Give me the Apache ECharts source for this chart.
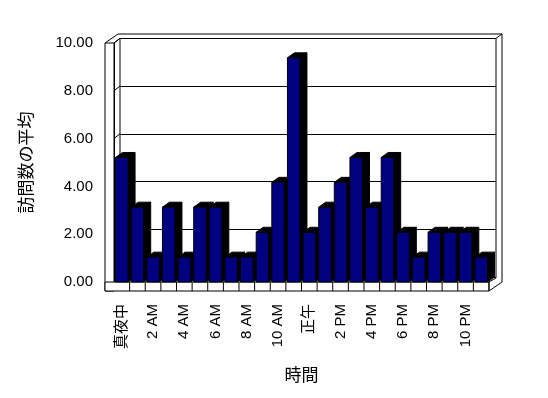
<!DOCTYPE html>
<html>
<head>
<meta charset="utf-8">
<script src="https://cdn.jsdelivr.net/npm/echarts@6/dist/echarts.min.js"></script>
<style>
  html, body { margin: 0; padding: 0; background: #fff; }
  #chart { width: 548px; height: 398px; }
</style>
</head>
<body>
<div id="chart"></div>
<script>
// hours of the day
var hours = [
  "真夜中", "1 AM", "2 AM", "3 AM", "4 AM", "5 AM", "6 AM", "7 AM",
  "8 AM", "9 AM", "10 AM", "11 AM", "正午", "1 PM", "2 PM", "3 PM",
  "4 PM", "5 PM", "6 PM", "7 PM", "8 PM", "9 PM", "10 PM", "11 PM"
];
// average visits per hour
var avgVisits = [
  5.21, 3.13, 1.04, 3.13, 1.04, 3.13, 3.13, 1.04,
  1.04, 2.08, 4.17, 9.38, 2.08, 3.13, 4.17, 5.21,
  3.13, 5.21, 2.08, 1.04, 2.08, 2.08, 2.08, 1.04
];
var yTicks = [0, 2, 4, 6, 8, 10];

var FONT = "'Liberation Sans', 'Noto Sans CJK JP', sans-serif";
var DX = 7, DY = -5;   // depth of the bars
var chart = echarts.init(document.getElementById("chart"));

function renderBar(params, api) {
  var i = api.value(0);
  var top = api.coord([i, api.value(1)]);
  var base = api.coord([i, 0]);
  var w = api.size([1, 0])[0] * 0.8;
  var x = top[0] - w / 2;
  var y = top[1];
  var b = base[1];
  return {
    type: "group",
    children: [
      {
        type: "polygon",
        shape: { points: [[x + w, b], [x + w, y], [x + w + DX, y + DY], [x + w + DX, b + DY]] },
        style: { fill: "#000", stroke: "#000", lineWidth: 1 }
      },
      {
        type: "polygon",
        shape: { points: [[x, y], [x + DX, y + DY], [x + w + DX, y + DY], [x + w, y]] },
        style: { fill: "#000", stroke: "#000", lineWidth: 1 }
      },
      {
        type: "rect",
        shape: { x: x, y: y, width: w, height: b - y },
        style: { fill: "#000080", stroke: "#000", lineWidth: 1 }
      }
    ]
  };
}

var option = {
  backgroundColor: "#fff",
  animation: false,
  textStyle: { fontFamily: FONT },
  grid: [
    { left: 114, right: 59, top: 43, bottom: 116 },
    { left: 120, right: 52, top: 38.3, bottom: 121 }
  ],
  xAxis: [
    {
      type: "category",
      gridIndex: 0,
      data: hours,
      name: "時間",
      nameLocation: "middle",
      nameGap: 86,
      nameTextStyle: { fontSize: 17, color: "#000", fontFamily: FONT },
      axisLine: { show: false },
      axisTick: { show: false },
      axisLabel: {
        interval: 1,
        rotate: 90,
        margin: 22,
        fontSize: 15,
        color: "#000",
        fontFamily: FONT
      }
    },
    { type: "category", gridIndex: 1, data: hours, show: false }
  ],
  yAxis: [
    {
      type: "value",
      gridIndex: 0,
      min: 0,
      max: 10,
      interval: 2,
      name: "訪問数の平均",
      nameLocation: "middle",
      nameGap: 78,
      nameTextStyle: { fontSize: 17, color: "#000", fontFamily: FONT },
      axisLine: { show: true, lineStyle: { color: "#000", width: 1 } },
      axisTick: { show: true, inside: false, length: 9, lineStyle: { color: "#000" } },
      splitLine: { show: false },
      axisLabel: {
        margin: 21,
        fontSize: 15,
        color: "#000",
        fontFamily: FONT,
        formatter: function (v) { return v.toFixed(2); }
      }
    },
    {
      type: "value",
      gridIndex: 1,
      min: 0,
      max: 10,
      interval: 2,
      axisLine: { show: false },
      axisTick: { show: false },
      axisLabel: { show: false },
      splitLine: { show: true, lineStyle: { color: "#000", width: 1 } }
    }
  ],
  series: [
    {
      type: "custom",
      xAxisIndex: 0,
      yAxisIndex: 0,
      renderItem: renderBar,
      data: avgVisits.map(function (v, i) { return [i, v]; }),
      z: 5
    }
  ]
};
chart.setOption(option);

// frame: walls and floor, built from the axes
var line = function (pts) {
  return { type: "polyline", shape: { points: pts }, style: { stroke: "#000", lineWidth: 1, fill: null }, z: 1 };
};
var fL = chart.convertToPixel({ xAxisIndex: 0 }, 0) - 7.8;
var fR = chart.convertToPixel({ xAxisIndex: 0 }, hours.length - 1) + 7.8;
var fB = chart.convertToPixel({ yAxisIndex: 0 }, 0);
var fT = chart.convertToPixel({ yAxisIndex: 0 }, 10);
var bT = chart.convertToPixel({ yAxisIndex: 1 }, 10);
var wallX = fL - 9, floorY = fB + 9;
var bL = 120, bR = 496, oR = 502, oT = bT - 4.3;

var els = [];
// left wall
els.push({ type: "rect", shape: { x: wallX, y: fT, width: fL - wallX, height: floorY - fT }, style: { fill: "#fff", stroke: "#000", lineWidth: 1 }, z: 1 });
els.push(line([[wallX, fT], [bL - 2, oT], [oR, oT], [oR, fB]]));
els.push(line([[fL, fT], [bL, bT]]));
els.push(line([[bL, bT], [bL, fB]]));
els.push(line([[bR, bT], [bR, fB - 4]]));
els.push(line([[oR, oT], [bR, bT]]));
// floor front
els.push({ type: "rect", shape: { x: wallX, y: fB, width: fR - wallX, height: floorY - fB }, style: { fill: "#fff", stroke: "#000", lineWidth: 1 }, z: 1 });
for (var k = 0; k < hours.length; k++) {
  var xb = chart.convertToPixel({ xAxisIndex: 0 }, k) + 7.8;
  els.push(line([[xb, fB], [xb, floorY]]));
}
els.push(line([[fR, floorY], [oR, fB]]));
els.push(line([[fR, fB], [bR, fB - 4]]));
// ticks joining the back grid lines
yTicks.forEach(function (v) {
  var yf = chart.convertToPixel({ yAxisIndex: 0 }, v);
  var yb = chart.convertToPixel({ yAxisIndex: 1 }, v);
  if (v > 0) els.push(line([[fL, yf], [bL, yb]]));
});
chart.setOption({ graphic: els });
</script>
</body>
</html>
